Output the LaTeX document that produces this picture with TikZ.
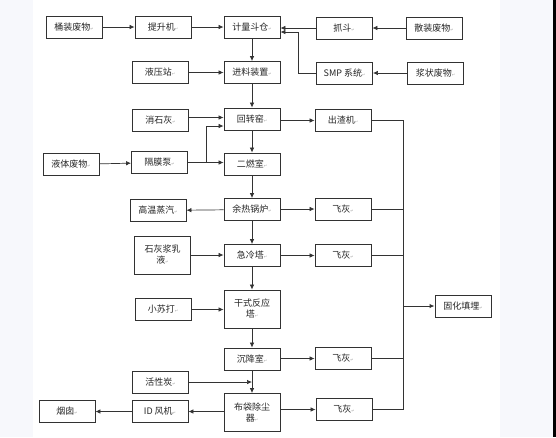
\documentclass[tikz,border=0pt]{standalone}
\usepackage{fontspec}
\setmainfont{Noto Sans CJK SC}
\newfontfamily\markfont{DejaVu Sans}
\usepackage{tikz}
\usetikzlibrary{positioning,arrows.meta,calc}

\definecolor{pagebg}{RGB}{247,248,252}
\definecolor{boxline}{RGB}{50,50,50}
\newcommand{\retmark}{{\markfont\color{black!35}\fontsize{4}{4}\selectfont ↵}}

\begin{document}
\begin{tikzpicture}[x=1pt,y=-1pt,>={Latex[length=5pt,width=4.5pt]},
		box/.style={draw=boxline,line width=0.9pt,minimum width=56pt,minimum height=22pt,
			inner sep=1pt,font=\fontsize{9}{11}\selectfont,text=black!85},
		tall/.style={box,minimum height=38pt,align=center},
		flow/.style={->,line width=0.7pt,draw=black!80},
		link/.style={line width=0.7pt,draw=black!80}]
		
		% Page
		\useasboundingbox (0,0) rectangle (556,437);
		\fill[pagebg] (0,0) rectangle (556,437);
		\fill[white] (33,0) rectangle (500,437);
		\fill[black] (553,0) rectangle (556,437);
		
		% Feeding
		\node[box] (barrel) at (74,27) {桶装废物\retmark};
		\node[box] (lift) at (163,27) {提升机\retmark};
		\node[box] (hopper) at (252,27) {计量斗仓\retmark};
		\node[box] (grab) at (344,28) {抓斗\retmark};
		\node[box] (bulk) at (434,28) {散装废物\retmark};
		
		\node[box] (hydraulic) at (160,72.5) {液压站\retmark};
		\node[box] (feeder) at (252,72.5) {进料装置\retmark};
		\node[box] (smp) at (344.5,73) {SMP 系统\retmark};
		\node[box] (slurry) at (435.5,73) {浆状废物\retmark};
		
		% Incineration
		\node[box] (lime) at (160.5,120.5) {消石灰\retmark};
		\node[box] (kiln) at (252,119) {回转窑\retmark};
		\node[box] (slag) at (343,120.5) {出渣机\retmark};
		
		\node[box] (liquid) at (71,164.5) {液体废物\retmark};
		\node[box] (pump) at (159.5,162.5) {隔膜泵\retmark};
		\node[box] (second) at (252,164) {二燃室\retmark};
		
		% Flue gas line
		\node[box] (steam) at (158,210.5) {高温蒸汽\retmark};
		\node[box] (boiler) at (252,209.5) {余热锅炉\retmark};
		\node[box] (ashA) at (343,209) {飞灰\retmark};
		
		\node[tall] (milk) at (162.5,255) {石灰浆乳\\液\retmark};
		\node[box] (quench) at (252,255.5) {急冷塔\retmark};
		\node[box] (ashB) at (343,255.5) {飞灰\retmark};
		
		\node[box] (soda) at (163,309.5) {小苏打\retmark};
		\node[tall] (reactor) at (252,309) {干式反应\\塔\retmark};
		\node[box] (landfill) at (463,306) {固化填埋\retmark};
		
		\node[box] (settle) at (252,359) {沉降室\retmark};
		\node[box] (ashC) at (343,358.5) {飞灰\retmark};
		
		\node[box] (carbon) at (160.5,382) {活性炭\retmark};
		\node[tall] (bag) at (252,412.5) {布袋除尘\\器\retmark};
		\node[box] (ashD) at (344,409.5) {飞灰\retmark};
		\node[box] (fan) at (160,411.5) {ID 风机\retmark};
		\node[box] (stack) at (67,411.5) {烟囱\retmark};
		
		% Feed arrows
		\draw[flow] (barrel) -- (lift);
		\draw[flow] (lift) -- (hopper);
		\draw[flow] (bulk) -- (grab);
		\draw[flow] (grab.west) -- (grab.west -| hopper.east);
		\draw[flow] (slurry) -- (smp);
		\draw[flow] (smp.west) -- ++(-18,0) |- ([yshift=-5pt]hopper.east);
		\draw[flow] (hydraulic) -- (feeder);
		
		% Main column
		\draw[flow] (hopper) -- (feeder);
		\draw[flow] (feeder) -- (kiln);
		\draw[flow] (kiln) -- (second);
		\draw[flow] (second) -- (boiler);
		\draw[flow] (boiler) -- (quench);
		\draw[flow] (quench) -- (reactor);
		\draw[flow] (reactor) -- (settle);
		\draw[flow] (settle) -- (bag);
		
		% Side inputs
		\draw[flow] ([yshift=3pt]lime.east) -- ([yshift=3pt]lime.east -| kiln.west);
		\draw[flow] (liquid) -- (pump);
		\coordinate (split) at ($(pump.east)+(18,0)$);
		\draw[link] (pump.east) -- (split);
		\draw[flow] (split) -- (split -| second.west);
		\draw[flow] (split) |- ([yshift=-7pt]kiln.west);
		\draw[flow] (milk) -- (milk -| quench.west);
		\draw[flow] (soda) -- (soda -| reactor.west);
		\draw[flow] (carbon) -- (carbon -| settle.south);
		
		% Outputs
		\draw[flow] (boiler) -- (steam);
		\draw[flow] (bag.west |- fan) -- (fan);
		\draw[flow] (fan) -- (stack);
		\draw[flow] (kiln.east |- slag) -- (slag);
		\draw[flow] (boiler.east |- ashA) -- (ashA);
		\draw[flow] (quench) -- (ashB);
		\draw[flow] (settle.east |- ashC) -- (ashC);
		\draw[flow] (bag.east |- ashD) -- (ashD);
		
		% Collecting line
		\coordinate (bus) at ($(slag.east)+(32,0)$);
		\draw[link] (slag.east) -- (bus) -- (bus |- ashD);
		\draw[link] (ashA.east) -- (ashA.east -| bus);
		\draw[link] (ashB.east) -- (ashB.east -| bus);
		\draw[link] (ashC.east) -- (ashC.east -| bus);
		\draw[link] (ashD.east) -- (ashD.east -| bus);
		\draw[flow,line width=1pt] (bus |- landfill) -- (landfill);
		
	\end{tikzpicture}
\end{document}
